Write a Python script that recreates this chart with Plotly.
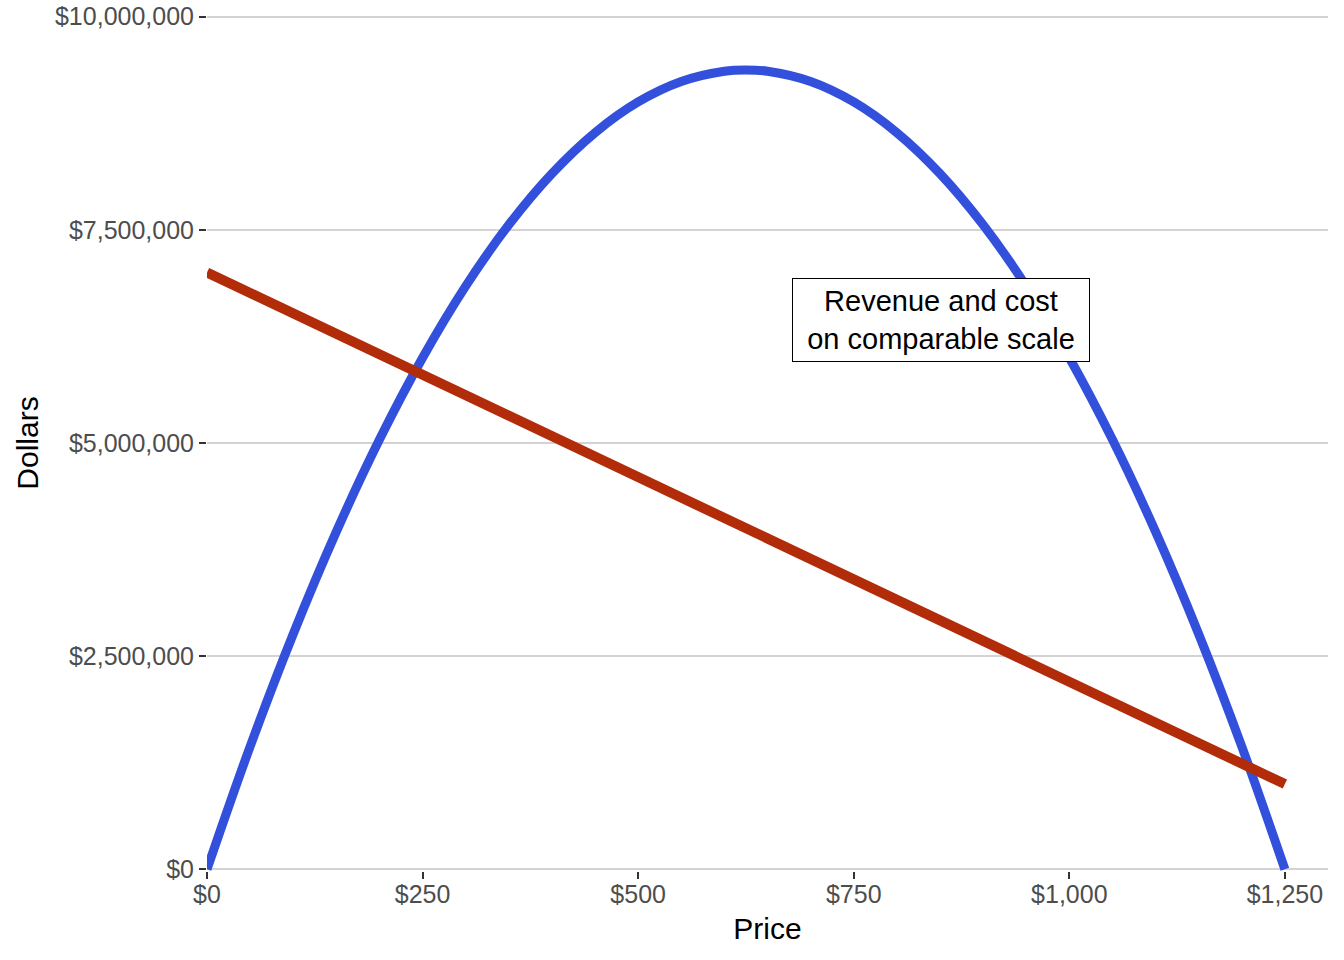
import plotly.graph_objects as go

# values
price = [0, 50, 100, 150, 200, 250, 300, 350, 400, 450, 500, 550, 600, 625,
         650, 700, 750, 800, 850, 900, 950, 1000, 1050, 1100, 1150, 1200, 1250]
revenue = [0, 1440000, 2760000, 3960000, 5040000, 6000000, 6840000, 7560000,
           8160000, 8640000, 9000000, 9240000, 9360000, 9375000, 9360000,
           9240000, 9000000, 8640000, 8160000, 7560000, 6840000, 6000000,
           5040000, 3960000, 2760000, 1440000, 0]

cost_price = [0, 1250]
cost = [7000000, 1000000]

x_ticks = [0, 250, 500, 750, 1000, 1250]
x_labels = ["$0", "$250", "$500", "$750", "$1,000", "$1,250"]
y_ticks = [0, 2500000, 5000000, 7500000, 10000000]
y_labels = ["$0", "$2,500,000", "$5,000,000", "$7,500,000", "$10,000,000"]

fig = go.Figure()

fig.add_trace(go.Scatter(x=price, y=revenue, mode="lines",
                         line=dict(color="#3350DD", width=9, shape="spline"),
                         name="Revenue", showlegend=False))

fig.add_trace(go.Scatter(x=cost_price, y=cost, mode="lines",
                         line=dict(color="#B22C0A", width=10),
                         name="Cost", showlegend=False))

fig.add_annotation(x=851, y=6440000, xref="x", yref="y",
                   text="Revenue and cost<br>on comparable scale",
                   showarrow=False, font=dict(size=29, color="black"),
                   bgcolor="white", bordercolor="black", borderwidth=1,
                   borderpad=4, width=288, height=74)

fig.update_layout(
    width=1344, height=960,
    margin=dict(l=207, r=16, t=15, b=89),
    plot_bgcolor="white", paper_bgcolor="white",
    font=dict(family="Liberation Sans, Arial, sans-serif"),
)

fig.update_xaxes(range=[0, 1300], tickvals=x_ticks, ticktext=x_labels,
                 showgrid=False, zeroline=False, showline=False, automargin=False,
                 ticks="outside", ticklen=7, tickwidth=2, tickcolor="#333333",
                 tickfont=dict(size=25, color="#4D4D4D"),
                 ticklabelstandoff=-6, ticklabeloverflow="allow",
                 title=dict(text="Price", font=dict(size=30, color="black"),
                            standoff=10))

fig.update_yaxes(range=[-20000, 10020000], tickvals=y_ticks, ticktext=y_labels,
                 showgrid=True, gridcolor="#D3D3D3", gridwidth=2,
                 zeroline=False, showline=False, automargin=False,
                 ticks="outside", ticklen=7, tickwidth=2, tickcolor="#333333",
                 tickfont=dict(size=25, color="#4D4D4D"),
                 ticklabeloverflow="allow",
                 title=dict(text="Dollars", font=dict(size=30, color="black"),
                            standoff=7))

# drop the default page margin so the figure fills the window
fig.write_html("out.html", config={"displayModeBar": False},
               post_script="document.body.style.margin='0';")
